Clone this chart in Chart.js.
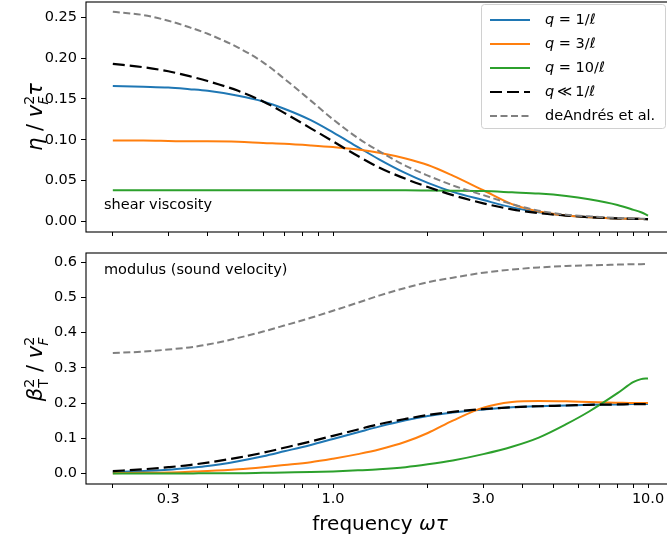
<!DOCTYPE html>
<html>
<head>
<meta charset="utf-8">
<script src="https://cdn.jsdelivr.net/npm/chart.js@4.4.0/dist/chart.umd.min.js"></script>
<style>
html, body { margin: 0; padding: 0; background: #fff; overflow: hidden; }
#wrap { position: relative; width: 667px; height: 541px; overflow: hidden; }
.panel { position: absolute; left: 0; width: 676px; }
#top-panel { top: 0; height: 240px; }
#bottom-panel { top: 240px; height: 301px; }
.ylab { position: absolute; left: 36px; transform: translate(-50%, -50%) rotate(-90deg);
        font-family: 'DejaVu Sans', sans-serif; font-size: 21px; white-space: nowrap; color: #000; }
#xlab { position: absolute; left: 380px; top: 523px; transform: translate(-50%, -50%);
        font-family: 'DejaVu Sans', sans-serif; font-size: 20px; white-space: nowrap; color: #000; }
.it { font-style: italic; }
.ss { display: inline-block; vertical-align: -0.45em; font-size: 0.68em; line-height: 1.0; }
.ss span { display: block; }
</style>
</head>
<body>
<div id="wrap">
  <div class="panel" id="top-panel"><canvas id="eta-chart"></canvas></div>
  <div class="panel" id="bottom-panel"><canvas id="beta-chart"></canvas></div>
  <div class="ylab" style="top:117px"><span class="it">η</span> / <span class="it">v</span><span class="ss"><span>2</span><span class="it">F</span></span><span class="it">τ</span></div>
  <div class="ylab" style="top:369px"><span class="it">β</span><span class="ss"><span>2</span><span>T</span></span> / <span class="it">v</span><span class="ss"><span>2</span><span class="it">F</span></span></div>
  <div id="xlab">frequency <span class="it">ωτ</span></div>
</div>
<script>
Chart.defaults.font.family = '"DejaVu Sans", sans-serif';
Chart.defaults.font.size = 14.5;
Chart.defaults.color = '#000';

// 频率（横轴，对数）
const freq = [0.2, 0.25, 0.3, 0.35, 0.4, 0.5, 0.6, 0.7, 0.85, 1.0, 1.2, 1.4, 1.7, 2.0, 2.4, 3.0, 3.7, 4.5, 5.5, 6.5, 8, 9, 9.5, 10];

const seriesLabels = ['q = 1/ℓ', 'q = 3/ℓ', 'q = 10/ℓ', 'q\u2009≪\u20091/ℓ', 'deAndrés et al.'];

// 上图：剪切粘度 η / vF²τ
const etaQ1  = [0.166, 0.165, 0.164, 0.162, 0.160, 0.154, 0.147, 0.138, 0.124, 0.109, 0.091, 0.076, 0.059, 0.047, 0.036, 0.026, 0.017, 0.011, 0.007, 0.005, 0.0035, 0.003, 0.0028, 0.0025];
const etaQ3  = [0.099, 0.099, 0.0985, 0.098, 0.098, 0.0975, 0.096, 0.095, 0.093, 0.091, 0.088, 0.084, 0.077, 0.069, 0.056, 0.038, 0.021, 0.012, 0.007, 0.005, 0.0035, 0.003, 0.0028, 0.0025];
const etaQ10 = [0.038, 0.038, 0.038, 0.038, 0.038, 0.038, 0.038, 0.038, 0.038, 0.038, 0.038, 0.038, 0.038, 0.0378, 0.0375, 0.037, 0.0355, 0.034, 0.031, 0.027, 0.020, 0.014, 0.011, 0.007];
const etaLow = [0.193, 0.189, 0.184, 0.178, 0.172, 0.160, 0.147, 0.133, 0.114, 0.098, 0.080, 0.066, 0.052, 0.042, 0.032, 0.022, 0.0145, 0.010, 0.007, 0.005, 0.0035, 0.003, 0.0028, 0.0025];
const etaDA  = [0.257, 0.253, 0.246, 0.238, 0.230, 0.213, 0.195, 0.175, 0.148, 0.125, 0.102, 0.086, 0.068, 0.056, 0.044, 0.032, 0.021, 0.013, 0.008, 0.006, 0.004, 0.0035, 0.0032, 0.003];

// 下图：模量（声速）βT² / vF²
const betaQ1  = [0.004, 0.007, 0.011, 0.016, 0.021, 0.035, 0.049, 0.063, 0.081, 0.098, 0.117, 0.133, 0.151, 0.163, 0.173, 0.182, 0.188, 0.191, 0.193, 0.195, 0.196, 0.197, 0.197, 0.197];
const betaQ3  = [0.001, 0.002, 0.003, 0.005, 0.007, 0.012, 0.018, 0.024, 0.032, 0.042, 0.055, 0.068, 0.090, 0.115, 0.150, 0.187, 0.203, 0.206, 0.205, 0.203, 0.201, 0.200, 0.200, 0.200];
const betaQ10 = [0.000, 0.000, 0.000, 0.000, 0.001, 0.001, 0.002, 0.003, 0.004, 0.006, 0.009, 0.012, 0.018, 0.026, 0.037, 0.055, 0.076, 0.102, 0.140, 0.176, 0.228, 0.260, 0.268, 0.270];
const betaLow = [0.007, 0.012, 0.018, 0.024, 0.031, 0.045, 0.059, 0.073, 0.091, 0.107, 0.125, 0.140, 0.155, 0.166, 0.175, 0.183, 0.188, 0.191, 0.193, 0.195, 0.196, 0.197, 0.197, 0.197];
const betaDA  = [0.342, 0.346, 0.352, 0.358, 0.366, 0.385, 0.403, 0.420, 0.442, 0.462, 0.485, 0.505, 0.527, 0.543, 0.556, 0.570, 0.579, 0.585, 0.589, 0.591, 0.593, 0.594, 0.594, 0.595];

// 刻度
const xTicks = [0.2, 0.3, 0.4, 0.5, 0.6, 0.7, 0.8, 0.9, 1, 2, 3, 4, 5, 6, 7, 8, 9, 10];
const xLabels = [0.3, 1, 3, 10];
const etaTicks = [0, 0.05, 0.1, 0.15, 0.2, 0.25];
const betaTicks = [0, 0.1, 0.2, 0.3, 0.4, 0.5, 0.6];

const lineStyles = [
    { borderColor: '#1f77b4', borderWidth: 2 },
    { borderColor: '#ff7f0e', borderWidth: 2 },
    { borderColor: '#2ca02c', borderWidth: 2 },
    { borderColor: '#000000', borderWidth: 2.2, borderDash: [12, 5] },
    { borderColor: '#808080', borderWidth: 2, borderDash: [7, 3.5] }
];

function makeDatasets(seriesList) {
    return seriesList.map((ys, i) => Object.assign({
        label: seriesLabels[i],
        data: freq.map((x, j) => ({ x: x, y: ys[j] })),
        pointRadius: 0,
        fill: false,
        cubicInterpolationMode: 'monotone',
        order: seriesList.length - i
    }, lineStyles[i]));
}

// 画四边框
const framePlugin = {
    id: 'frame',
    afterDraw(chart) {
        const a = chart.chartArea, ctx = chart.ctx;
        ctx.save();
        ctx.strokeStyle = '#000';
        ctx.lineWidth = 1.1;
        ctx.setLineDash([]);
        ctx.strokeRect(a.left, a.top, a.right - a.left, a.bottom - a.top);
        ctx.restore();
    }
};

// 面板内文字
const panelTextPlugin = {
    id: 'panelText',
    afterDraw(chart, args, opts) {
        if (!opts.text) return;
        const a = chart.chartArea, ctx = chart.ctx;
        ctx.save();
        ctx.font = '14.5px "DejaVu Sans"';
        ctx.fillStyle = '#000';
        ctx.textBaseline = 'middle';
        ctx.fillText(opts.text, a.left + opts.dx, a.top + opts.dy);
        ctx.restore();
    }
};

// 文字中字母用斜体（数学符号）
function drawMathLabel(ctx, text, x, y, math) {
    for (const ch of text) {
        const italic = math && /[a-zℓ]/.test(ch);
        ctx.font = (italic ? 'italic ' : '') + '14.5px "DejaVu Sans"';
        ctx.fillText(ch, x, y);
        x += ctx.measureText(ch).width;
    }
}

// 图例
const mathLegendPlugin = {
    id: 'mathLegend',
    afterDraw(chart, args, opts) {
        if (!opts.show) return;
        const ctx = chart.ctx;
        const x0 = 481, y0 = 4, w = 184, h = 124, r = 3;
        ctx.save();
        ctx.beginPath();
        ctx.roundRect(x0 + 0.5, y0 + 0.5, w, h, r);
        ctx.fillStyle = 'rgba(255,255,255,0.8)';
        ctx.fill();
        ctx.strokeStyle = '#d0d0d0';
        ctx.lineWidth = 1;
        ctx.stroke();
        chart.data.datasets.forEach((ds, i) => {
            const y = 20 + i * 24;
            ctx.beginPath();
            ctx.strokeStyle = ds.borderColor;
            ctx.lineWidth = ds.borderWidth;
            ctx.setLineDash(ds.borderDash || []);
            ctx.moveTo(490, y);
            ctx.lineTo(530, y);
            ctx.stroke();
            ctx.setLineDash([]);
            ctx.fillStyle = '#000';
            ctx.textBaseline = 'middle';
            drawMathLabel(ctx, ds.label, 545, y, ds.label.startsWith('q'));
        });
        ctx.restore();
    }
};

function xScale(showLabels, height) {
    return {
        type: 'logarithmic',
        min: 0.1644,
        max: 12.18,
        afterBuildTicks: axis => { axis.ticks = xTicks.map(v => ({ value: v })); },
        afterFit: axis => {
            axis.height = height;
            axis.paddingLeft = 0;
            axis.paddingRight = 0;
        },
        ticks: {
            display: showLabels,
            autoSkip: false,
            maxRotation: 0,
            padding: 3,
            callback: v => xLabels.includes(v) ? v.toFixed(1) : ''
        },
        grid: { drawOnChartArea: false, tickLength: 4, color: '#000', tickColor: '#000' },
        border: { display: false }
    };
}

function yScale(min, max, tickVals, digits) {
    return {
        type: 'linear',
        min: min,
        max: max,
        afterBuildTicks: axis => { axis.ticks = tickVals.map(v => ({ value: v })); },
        afterFit: axis => {
            axis.width = 86;
            axis.paddingTop = 0;
            axis.paddingBottom = 0;
        },
        ticks: { padding: 4, callback: v => v.toFixed(digits) },
        grid: { drawOnChartArea: false, tickLength: 5, color: '#000', tickColor: '#000' },
        border: { display: false }
    };
}

function makeChart(canvasId, seriesList, opts) {
    return new Chart(document.getElementById(canvasId).getContext('2d'), {
        type: 'line',
        data: { datasets: makeDatasets(seriesList) },
        options: {
            responsive: true,
            maintainAspectRatio: false,
            animation: false,
            layout: { padding: { top: opts.padTop, right: 1, left: 0, bottom: 0 } },
            scales: {
                x: xScale(opts.xLabels, opts.xHeight),
                y: yScale(opts.yMin, opts.yMax, opts.yTicks, opts.digits)
            },
            plugins: {
                legend: { display: false },
                tooltip: { enabled: false },
                panelText: opts.text,
                mathLegend: { show: opts.legend }
            }
        },
        plugins: [framePlugin, panelTextPlugin, mathLegendPlugin]
    });
}

makeChart('eta-chart', [etaQ1, etaQ3, etaQ10, etaLow, etaDA], {
    padTop: 2, xLabels: false, xHeight: 8,
    yMin: -0.0132, yMax: 0.269, yTicks: etaTicks, digits: 2,
    text: { text: 'shear viscosity', dx: 18, dy: 203 },
    legend: true
});

makeChart('beta-chart', [betaQ1, betaQ3, betaQ10, betaLow, betaDA], {
    padTop: 13, xLabels: true, xHeight: 57,
    yMin: -0.0298, yMax: 0.626, yTicks: betaTicks, digits: 1,
    text: { text: 'modulus (sound velocity)', dx: 18, dy: 17 },
    legend: false
});
</script>
</body>
</html>
